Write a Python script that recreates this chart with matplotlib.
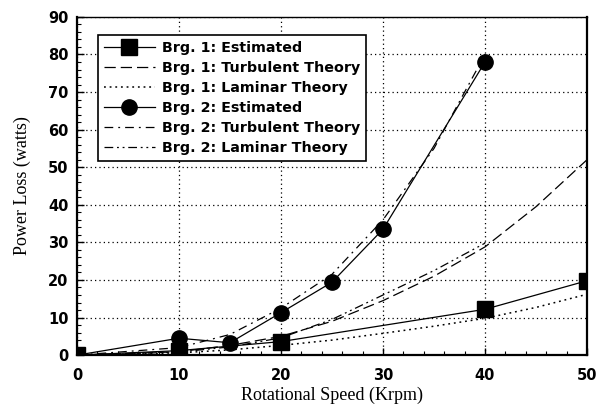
import matplotlib
matplotlib.use("Agg")
import matplotlib.pyplot as plt
from matplotlib.ticker import MultipleLocator

# data
x_b1_est = [0, 10, 20, 40, 50]
y_b1_est = [0, 1.2, 3.6, 12.2, 19.8]

x_b1_theory = [0, 10, 15, 20, 25, 30, 35, 40, 45, 50]
y_b1_turb = [0, 0.9, 2.6, 5.0, 9.0, 14.5, 21.0, 28.8, 39.5, 52.0]
y_b1_lam = [0, 0.6, 1.4, 2.6, 4.0, 5.8, 7.7, 9.8, 12.7, 16.2]

x_b2_est = [0, 10, 15, 20, 25, 30, 40]
y_b2_est = [0, 4.5, 3.3, 11.3, 19.4, 33.5, 78.0]

x_b2_theory = [0, 10, 15, 20, 25, 30, 35, 40]
y_b2_turb = [0, 2.0, 5.5, 12.5, 21.5, 36.0, 55.0, 80.0]
y_b2_lam = [0, 0.8, 2.2, 4.6, 9.5, 16.0, 22.5, 29.8]

labels = [
    "Brg. 1: Estimated",
    "Brg. 1: Turbulent Theory",
    "Brg. 1: Laminar Theory",
    "Brg. 2: Estimated",
    "Brg. 2: Turbulent Theory",
    "Brg. 2: Laminar Theory",
]

fig = plt.figure(figsize=(5.96, 4.12), dpi=100)
ax = fig.add_axes([0.129, 0.138, 0.856, 0.821])

lw = 0.9
ax.plot(x_b1_est, y_b1_est, color="black", lw=lw, marker="s", ms=11, label=labels[0])
ax.plot(x_b1_theory, y_b1_turb, color="black", lw=lw, ls=(0, (9, 4)), label=labels[1])
ax.plot(x_b1_theory, y_b1_lam, color="black", lw=1.1, ls=(0, (1.2, 2.5)), label=labels[2])
ax.plot(x_b2_est, y_b2_est, color="black", lw=lw, marker="o", ms=11, label=labels[3])
ax.plot(x_b2_theory, y_b2_turb, color="black", lw=lw, ls=(0, (7, 4, 1.5, 4)), label=labels[4])
ax.plot(x_b2_theory, y_b2_lam, color="black", lw=lw, ls=(0, (7, 3, 1.5, 3, 1.5, 3)), label=labels[5])

ax.set_xlim(0, 50)
ax.set_ylim(0, 90)
ax.xaxis.set_major_locator(MultipleLocator(10))
ax.xaxis.set_minor_locator(MultipleLocator(2))
ax.yaxis.set_major_locator(MultipleLocator(10))
ax.yaxis.set_minor_locator(MultipleLocator(2))
ax.tick_params(which="both", direction="in", top=False, right=False)
ax.tick_params(which="major", length=5, width=1, pad=6)
ax.tick_params(axis="x", which="major", pad=9)
ax.tick_params(which="minor", length=3, width=0.8)
ax.grid(True, which="major", color="black", ls=(0, (1, 2.5)), lw=0.9)

for lab in ax.get_xticklabels() + ax.get_yticklabels():
    lab.set_fontweight("bold")
    lab.set_fontsize(10.5)
    lab.set_family(["DejaVu Sans"])

for side in ["left", "bottom", "right"]:
    ax.spines[side].set_linewidth(1.6)
ax.spines["top"].set_linewidth(1.0)

ax.set_xlabel("Rotational Speed (Krpm)", family=["Liberation Serif"], fontsize=13, labelpad=3)
ax.set_ylabel("Power Loss (watts)", family=["Liberation Serif"], fontsize=13, labelpad=12)

leg = ax.legend(
    loc="upper left",
    bbox_to_anchor=(0.041, 0.945),
    frameon=True,
    fancybox=False,
    edgecolor="black",
    framealpha=1,
    handlelength=3.6,
    borderaxespad=0,
    borderpad=0.4,
    labelspacing=0.42,
    handletextpad=0.5,
    prop={"family": ["DejaVu Sans"], "weight": "bold", "size": 10.3},
)
leg.get_frame().set_linewidth(1.2)

fig.savefig("out.png", dpi=100)
